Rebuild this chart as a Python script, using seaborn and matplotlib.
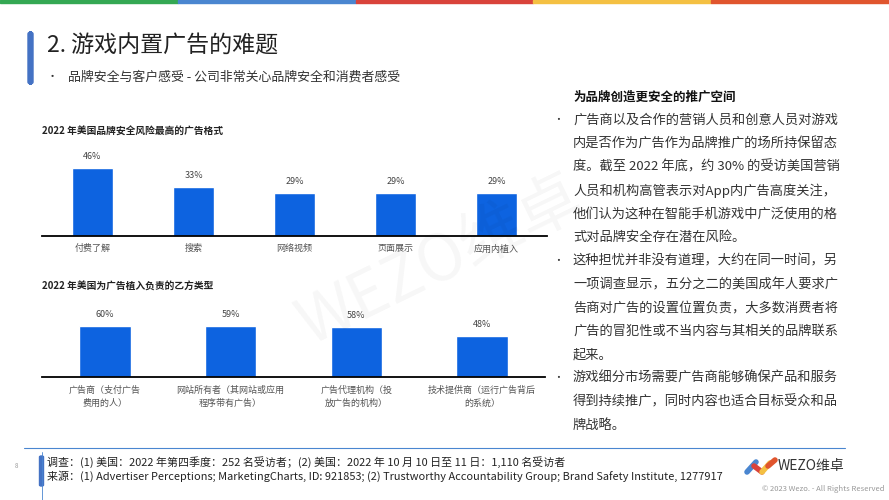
import numpy as np
import pandas as pd
import seaborn as sns
import matplotlib.pyplot as plt
from matplotlib.patches import FancyBboxPatch, Rectangle

# data
formats = ['付费了解', '搜索', '网络视频', '页面展示', '应用内植入']
format_share = [46, 33, 29, 29, 29]

parties = ['广告商（支付广告\n费用的人）', '网站所有者（其网站或应用\n程序带有广告）',
           '广告代理机构（投\n放广告的机构）', '技术提供商（运行广告背后\n的系统）']
party_share = [60, 59, 58, 48]

bullets = [
    ['广告商以及合作的营销人员和创意人员对游戏',
     '内是否作为广告作为品牌推广的场所持保留态',
     '度。截至 2022 年底，约 30% 的受访美国营销',
     '人员和机构高管表示对App内广告高度关注，',
     '他们认为这种在智能手机游戏中广泛使用的格',
     '式对品牌安全存在潜在风险。'],
    ['这种担忧并非没有道理，大约在同一时间，另',
     '一项调查显示，五分之二的美国成年人要求广',
     '告商对广告的设置位置负责，大多数消费者将',
     '广告的冒犯性或不当内容与其相关的品牌联系',
     '起来。'],
    ['游戏细分市场需要广告商能够确保产品和服务',
     '得到持续推广，同时内容也适合目标受众和品',
     '牌战略。'],
]
stripe_colors = ['#34A853', '#4A86D0', '#D9433B', '#F4C042', '#E0552E']

sns.set_theme(style='white')
plt.rcParams['font.family'] = ['Noto Sans CJK SC', 'DejaVu Sans']

W, H = 889, 500
fig = plt.figure(figsize=(W / 100, H / 100), dpi=100)
fig.patch.set_facecolor('white')


def px(x, y):
    return x / W, 1 - y / H


def add_ax(x0, y_top, w, h):
    return fig.add_axes([x0 / W, 1 - (y_top + h) / H, w / W, h / H])


BAR = '#0D63E0'
TXT = '#333333'

# top colour stripe
for i, c in enumerate(stripe_colors):
    fig.add_artist(Rectangle((i / 5, 1 - 3 / H), 1 / 5, 3 / H, color=c,
                             transform=fig.transFigure))

# title block
fig.add_artist(FancyBboxPatch(px(28, 84), 5 / W, 52 / H, boxstyle='round,pad=0,rounding_size=0.004',
                              color='#4472C4', transform=fig.transFigure))
fig.text(*px(47, 46), '2. 游戏内置广告的难题', fontsize=16.6, color='#222222', va='center')
fig.text(*px(47, 77), '•', fontsize=8, color=TXT, va='center')
fig.text(*px(68, 77), '品牌安全与客户感受 - 公司非常关心品牌安全和消费者感受',
         fontsize=9.3, color=TXT, va='center')


def draw_bars(ax, cats, vals, ymax, title, title_y):
    df = pd.DataFrame({'cat': cats, 'val': vals})
    sns.barplot(data=df, x='cat', y='val', color=BAR, width=0.41, ax=ax, saturation=1)
    ax.set_ylim(0, ymax)
    ax.set_xlim(-0.5, len(cats) - 0.5)
    for bc in ax.containers:
        ax.bar_label(bc, labels=[f'{v}%' for v in vals], padding=5, fontsize=6.5, color='#444444')
    for s in ['top', 'left', 'right']:
        ax.spines[s].set_visible(False)
    ax.spines['bottom'].set_color('black')
    ax.spines['bottom'].set_linewidth(1.3)
    ax.set_yticks([])
    ax.set_xlabel('')
    ax.set_ylabel('')
    ax.tick_params(axis='x', length=0, pad=6, labelsize=6.5, labelcolor='#555555')
    ax.set_facecolor('none')
    fig.text(*px(42, title_y), title, fontsize=7, fontweight='bold', color='#222222', va='center')


ax1 = add_ax(42, 150, 505, 86)
draw_bars(ax1, formats, format_share, 58, '2022 年美国品牌安全风险最高的广告格式', 132)

ax2 = add_ax(42, 305, 503, 72)
draw_bars(ax2, parties, party_share, 84, '2022 年美国为广告植入负责的乙方类型', 287)
for t in ax2.get_xticklabels():
    t.set_linespacing(1.6)

# right text block
fig.text(*px(573, 97), '为品牌创造更安全的推广空间', fontsize=9, fontweight='bold',
         color='#111111', va='center')
y = 120
for para in bullets:
    fig.text(*px(553, y), '•', fontsize=7, color=TXT, va='center')
    for line in para:
        fig.text(*px(573, y), line, fontsize=9.5, color=TXT, va='center')
        y += 23.5

# watermark
fig.text(*px(440, 262), 'WEZO维卓', fontsize=46, color='#000000', alpha=0.035,
         rotation=26, ha='center', va='center')

# footer
fig.add_artist(plt.Line2D([24 / W, 845 / W], [1 - 448 / H] * 2, color='#4A86D0', lw=0.8))
fig.add_artist(plt.Line2D([42 / W, 42 / W], [0, 1 - 452 / H], color='#4A86D0', lw=0.6))
fig.add_artist(FancyBboxPatch(px(39.5, 486), 4 / W, 30 / H, boxstyle='round,pad=0,rounding_size=0.002',
                              color='#4472C4', transform=fig.transFigure))
fig.text(*px(15, 466), '8', fontsize=4.5, color='#999999', va='center')
fig.text(*px(47, 462), '调查：(1) 美国：2022 年第四季度：252 名受访者；(2) 美国：2022 年 10 月 10 日至 11 日：1,110 名受访者',
         fontsize=7.9, color='#222222', va='center')
fig.text(*px(47, 476), '来源：(1) Advertiser Perceptions; MarketingCharts, ID: 921853; (2) Trustworthy Accountability Group; Brand Safety Institute, 1277917',
         fontsize=7.9, color='#222222', va='center')

# logo
for (x0, y0, x1, y1, c) in [(747, 472, 756, 462, '#4A86D0'), (754, 466, 762, 472, '#D9433B'),
                            (762, 472, 770, 463, '#F4C042'), (768, 466, 775, 460, '#E0552E')]:
    fig.add_artist(plt.Line2D([x0 / W, x1 / W], [1 - y0 / H, 1 - y1 / H], color=c, lw=4,
                              solid_capstyle='round'))
fig.text(*px(778, 466), 'WEZO维卓', fontsize=10, color='#333333', va='center')
fig.text(*px(885, 489), '© 2023 Wezo. - All Rights Reserved', fontsize=5.5, color='#999999',
         va='center', ha='right')

fig.savefig('out.png', dpi=100)
